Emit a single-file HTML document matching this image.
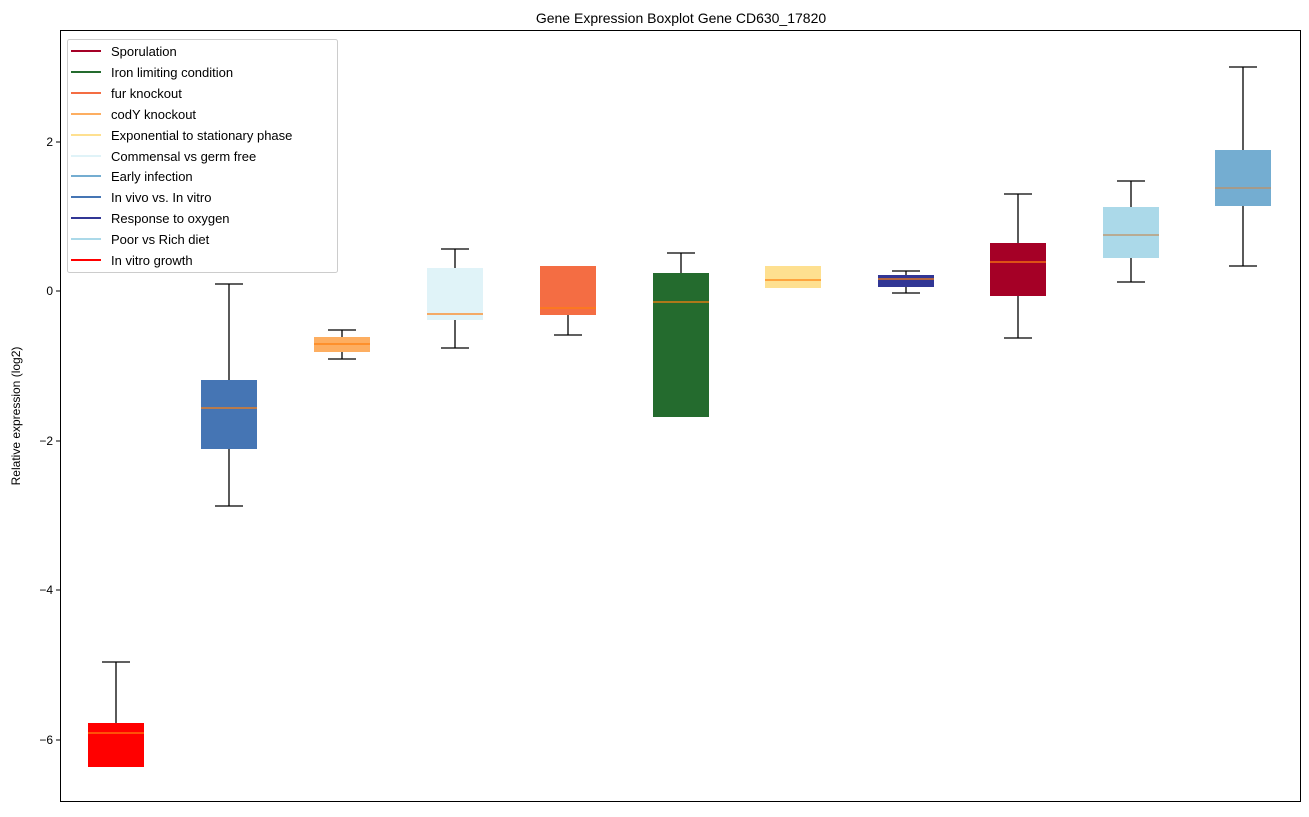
<!DOCTYPE html>
<html><head><meta charset="utf-8"><style>body{margin:0;background:#fff}</style></head><body>
<svg width="1309" height="812" xmlns="http://www.w3.org/2000/svg" font-family="Liberation Sans, DejaVu Sans, sans-serif">
<rect width="1309" height="812" fill="#fff"/>
<text x="681" y="23" font-size="14" text-anchor="middle">Gene Expression Boxplot Gene CD630_17820</text>
<g stroke="#000" stroke-width="1.2" fill="none">
<!-- boxes: x, capTop, boxTop, median, boxBottom, capBottom, color, medColor -->
</g>
<g id="b"></g>
<g stroke-width="1.3">
<!-- 1 -->
<line x1="116" y1="662" x2="116" y2="723" stroke="#000"/><line x1="102" y1="662" x2="130" y2="662" stroke="#000"/>
<rect x="88" y="723" width="56" height="44" fill="#ff0000" stroke="none"/><line x1="88" y1="733" x2="144" y2="733" stroke="#ff7f0e"/>
<!-- 2 -->
<line x1="229" y1="284" x2="229" y2="506" stroke="#000"/><line x1="215" y1="284" x2="243" y2="284" stroke="#000"/><line x1="215" y1="506" x2="243" y2="506" stroke="#000"/>
<rect x="201" y="380" width="56" height="69" fill="#4575b4"/><line x1="201" y1="408" x2="257" y2="408" stroke="#ff7f0e"/>
<!-- 3 -->
<line x1="342" y1="330" x2="342" y2="359" stroke="#000"/><line x1="328" y1="330" x2="356" y2="330" stroke="#000"/><line x1="328" y1="359" x2="356" y2="359" stroke="#000"/>
<rect x="314" y="337" width="56" height="15" fill="#fdae61"/><line x1="314" y1="344" x2="370" y2="344" stroke="#ff7f0e"/>
<!-- 4 -->
<line x1="455" y1="249" x2="455" y2="348" stroke="#000"/><line x1="441" y1="249" x2="469" y2="249" stroke="#000"/><line x1="441" y1="348" x2="469" y2="348" stroke="#000"/>
<rect x="427" y="268" width="56" height="52" fill="#e0f3f8"/><line x1="427" y1="314" x2="483" y2="314" stroke="#ff7f0e"/>
<!-- 5 -->
<line x1="568" y1="315" x2="568" y2="335" stroke="#000"/><line x1="554" y1="335" x2="582" y2="335" stroke="#000"/>
<rect x="540" y="266" width="56" height="49" fill="#f46d43"/><line x1="540" y1="308" x2="596" y2="308" stroke="#ff7f0e"/>
<!-- 6 -->
<line x1="681" y1="253" x2="681" y2="273" stroke="#000"/><line x1="667" y1="253" x2="695" y2="253" stroke="#000"/>
<rect x="653" y="273" width="56" height="144" fill="#246b2e"/><line x1="653" y1="302" x2="709" y2="302" stroke="#ff7f0e"/>
<!-- 7 -->
<rect x="765" y="266" width="56" height="22" fill="#fee090"/><line x1="765" y1="280" x2="821" y2="280" stroke="#ff7f0e"/>
<!-- 8 -->
<line x1="906" y1="271" x2="906" y2="293" stroke="#000"/><line x1="892" y1="271" x2="920" y2="271" stroke="#000"/><line x1="892" y1="293" x2="920" y2="293" stroke="#000"/>
<rect x="878" y="275" width="56" height="12" fill="#313695"/><line x1="878" y1="279" x2="934" y2="279" stroke="#ff7f0e"/>
<!-- 9 -->
<line x1="1018" y1="194" x2="1018" y2="338" stroke="#000"/><line x1="1004" y1="194" x2="1032" y2="194" stroke="#000"/><line x1="1004" y1="338" x2="1032" y2="338" stroke="#000"/>
<rect x="990" y="243" width="56" height="53" fill="#a50026"/><line x1="990" y1="262" x2="1046" y2="262" stroke="#ff7f0e"/>
<!-- 10 -->
<line x1="1131" y1="181" x2="1131" y2="282" stroke="#000"/><line x1="1117" y1="181" x2="1145" y2="181" stroke="#000"/><line x1="1117" y1="282" x2="1145" y2="282" stroke="#000"/>
<rect x="1103" y="207" width="56" height="51" fill="#abd9e9"/><line x1="1103" y1="235" x2="1159" y2="235" stroke="#c09060"/>
<!-- 11 -->
<line x1="1243" y1="67" x2="1243" y2="266" stroke="#000"/><line x1="1229" y1="67" x2="1257" y2="67" stroke="#000"/><line x1="1229" y1="266" x2="1257" y2="266" stroke="#000"/>
<rect x="1215" y="150" width="56" height="56" fill="#74add1"/><line x1="1215" y1="188" x2="1271" y2="188" stroke="#c09060"/>
</g>
<rect x="60.5" y="30.5" width="1240" height="771" fill="none" stroke="#000" stroke-width="1"/>
<g stroke="#000"><line x1="56" y1="142" x2="60" y2="142"/><line x1="56" y1="291" x2="60" y2="291"/><line x1="56" y1="441" x2="60" y2="441"/><line x1="56" y1="590" x2="60" y2="590"/><line x1="56" y1="740" x2="60" y2="740"/></g>
<g font-size="12" text-anchor="end"><text x="53" y="146">2</text><text x="53" y="295">0</text><text x="53" y="445">−2</text><text x="53" y="594">−4</text><text x="53" y="744">−6</text></g>
<text transform="translate(20,416) rotate(-90)" font-size="12" text-anchor="middle">Relative expression (log2)</text>
<rect x="67.5" y="39.5" width="270" height="233" rx="2" fill="#fff" fill-opacity="0.85" stroke="#ccc"/>
<g stroke-width="2">
<line x1="71" y1="51" x2="101" y2="51" stroke="#a50026"/><line x1="71" y1="72" x2="101" y2="72" stroke="#246b2e"/><line x1="71" y1="93" x2="101" y2="93" stroke="#f46d43"/><line x1="71" y1="114" x2="101" y2="114" stroke="#fdae61"/><line x1="71" y1="135" x2="101" y2="135" stroke="#fee090"/><line x1="71" y1="156" x2="101" y2="156" stroke="#e0f3f8"/><line x1="71" y1="176" x2="101" y2="176" stroke="#74add1"/><line x1="71" y1="197" x2="101" y2="197" stroke="#4575b4"/><line x1="71" y1="218" x2="101" y2="218" stroke="#313695"/><line x1="71" y1="239" x2="101" y2="239" stroke="#abd9e9"/><line x1="71" y1="260" x2="101" y2="260" stroke="#ff0000"/>
</g>
<g font-size="13">
<text x="111" y="56">Sporulation</text><text x="111" y="77">Iron limiting condition</text><text x="111" y="98">fur knockout</text><text x="111" y="119">codY knockout</text><text x="111" y="140">Exponential to stationary phase</text><text x="111" y="161">Commensal vs germ free</text><text x="111" y="181">Early infection</text><text x="111" y="202">In vivo vs. In vitro</text><text x="111" y="223">Response to oxygen</text><text x="111" y="244">Poor vs Rich diet</text><text x="111" y="265">In vitro growth</text>
</g>
</svg>
</body></html>
